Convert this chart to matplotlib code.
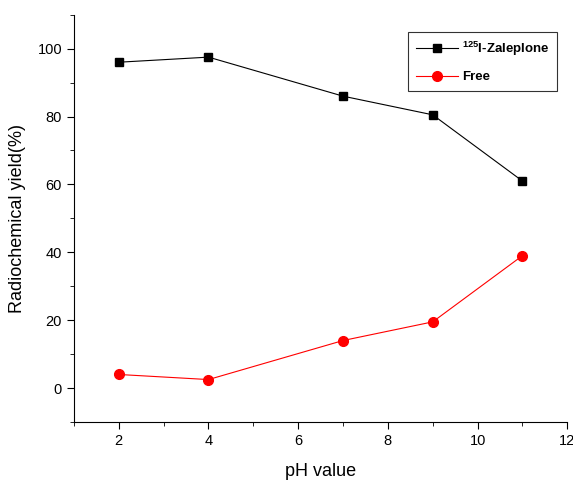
import matplotlib
matplotlib.use("Agg")
import matplotlib.pyplot as plt
from matplotlib.ticker import MultipleLocator

plt.rcParams['font.family'] = ['Liberation Sans', 'DejaVu Sans']
plt.rcParams['mathtext.fontset'] = 'custom'
plt.rcParams['mathtext.rm'] = 'Liberation Sans'
plt.rcParams['mathtext.bf'] = 'Liberation Sans:bold'

ph = [2, 4, 7, 9, 11]
zaleplone = [96, 97.5, 86, 80.5, 61]
free = [4, 2.5, 14, 19.5, 39]

fig = plt.figure(figsize=(5.73, 4.82), dpi=100)
ax = fig.add_axes([0.129, 0.1245, 0.861, 0.845])

ax.plot(ph, zaleplone, color="black", marker="s", markersize=6, linewidth=0.8,
        label=r"$\mathbf{^{125}}$I-Zaleplone")
ax.plot(ph, free, color="red", marker="o", markersize=7, linewidth=0.8,
        label="Free")

ax.set_xlim(1, 12)
ax.set_ylim(-10, 110)
ax.xaxis.set_major_locator(MultipleLocator(2))
ax.xaxis.set_minor_locator(MultipleLocator(1))
ax.yaxis.set_major_locator(MultipleLocator(20))
ax.yaxis.set_minor_locator(MultipleLocator(10))
ax.set_yticks(range(0, 101, 20))

ax.spines["top"].set_visible(False)
ax.spines["right"].set_visible(False)
ax.tick_params(which="major", direction="out", length=5, labelsize=10.5)
ax.tick_params(which="minor", direction="out", length=3)

ax.set_xlabel("pH value", fontsize=13, labelpad=11)
ax.set_ylabel("Radiochemical yield(%)", fontsize=13, labelpad=8)

leg = ax.legend(loc="upper right", bbox_to_anchor=(0.98, 0.958), fancybox=False,
                edgecolor="black", prop={"weight": "bold", "size": 9.5},
                handlelength=3.2, labelspacing=1.0, borderpad=0.6,
                handletextpad=0.3, borderaxespad=0)
leg.get_frame().set_linewidth(0.8)

fig.savefig("out.png", dpi=100)
